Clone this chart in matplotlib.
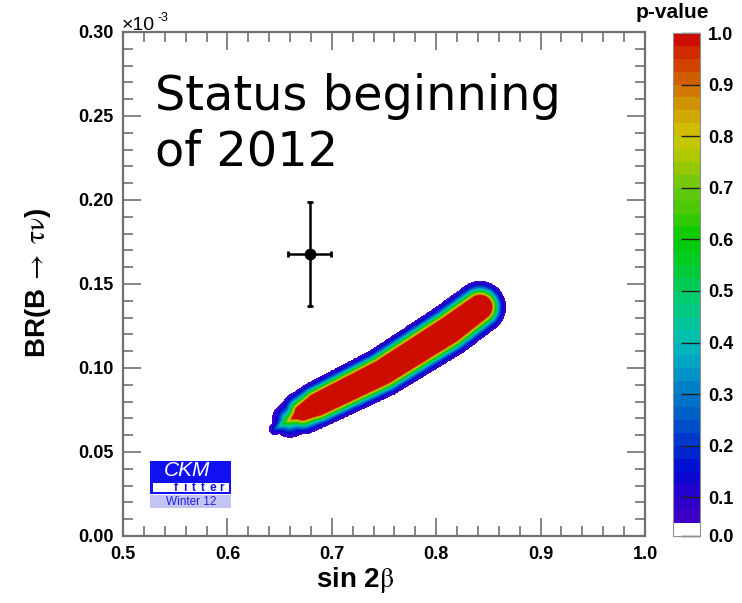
import math
import numpy as np
import matplotlib
matplotlib.use("Agg")
import matplotlib.pyplot as plt
from matplotlib.colors import LinearSegmentedColormap
from matplotlib.patches import Rectangle
from matplotlib.ticker import MultipleLocator, FormatStrFormatter

plt.rcParams['font.family'] = ['Liberation Sans', 'DejaVu Sans']
plt.rcParams['mathtext.fontset'] = 'stix'

# measurement: sin 2beta and BR(B -> tau nu) in units of 1e-3
meas_x, meas_xerr = 0.679, 0.0205
meas_y, meas_yerr = 0.168, 0.031

# ridge of the fit: centre line, half width of the p=1 plateau,
# and width of the fall-off down to p=0.05 (BR units, 1e-3)
ridge_x = [0.646, 0.660, 0.672, 0.686, 0.749, 0.813, 0.842]
ridge_y = [0.0638, 0.0692, 0.0735, 0.0782, 0.0976, 0.1228, 0.1362]
ridge_plateau = [-0.0060, -0.0012, 0.0040, 0.0060, 0.0068, 0.0073, 0.0066]
ridge_falloff = [0.0096, 0.0118, 0.0090, 0.0078, 0.0080, 0.0083, 0.0088]

# colour palette of the p-value scale
pal_vals = [0.05, 0.10, 0.15, 0.20, 0.25, 0.30, 0.35, 0.40, 0.45, 0.50,
            0.55, 0.60, 0.65, 0.70, 0.75, 0.80, 0.85, 0.90, 0.95, 1.00]
pal_cols = ['#4200c4', '#2a00cc', '#0008d2', '#0030cc', '#0058c8', '#0078c8',
            '#009cc8', '#00bcb8', '#00c890', '#00cc60', '#00cc30', '#00cc00',
            '#40c800', '#68c810', '#a0c800', '#d0c800', '#d0a000', '#d06c00',
            '#d03800', '#cc0000']
cb_ticks = [0.0, 0.1, 0.2, 0.3, 0.4, 0.5, 0.6, 0.7, 0.8, 0.9, 1.0]

# build the p-value map
xs = np.linspace(0.5, 1.0, 800)
ys = np.linspace(0.0, 0.30, 800)
X, Y = np.meshgrid(xs, ys)
ax_aspect = 522 / 504
PX = (X - 0.5) / 0.5 * ax_aspect
PY = Y / 0.30
rx = (np.array(ridge_x) - 0.5) / 0.5 * ax_aspect
ry = np.array(ridge_y) / 0.30
hp = np.array(ridge_plateau) / 0.30
bw = np.array(ridge_falloff) / 0.30

S = np.full(X.shape, np.inf)
for i in range(len(rx) - 1):
    x0, y0, x1, y1 = rx[i], ry[i], rx[i + 1], ry[i + 1]
    dx, dy = x1 - x0, y1 - y0
    t = ((PX - x0) * dx + (PY - y0) * dy) / (dx * dx + dy * dy)
    t = np.clip(t, 0, 1)
    d = np.hypot(PX - (x0 + t * dx), PY - (y0 + t * dy))
    h = hp[i] + t * (hp[i + 1] - hp[i])
    b = bw[i] + t * (bw[i + 1] - bw[i])
    S = np.minimum(S, (d - h) / b)

# S = 0 at the plateau edge, S = 1 where p reaches 0.05
erfc = np.vectorize(math.erfc)
P = np.ones_like(S)
band = S > 0
P[band] = erfc(1.96 * np.minimum(S[band], 3.0) / math.sqrt(2))
P[S > 1] = 0.0

cmap = LinearSegmentedColormap.from_list(
    'pv', list(zip([(v - 0.05) / 0.95 for v in pal_vals], pal_cols)))
levels = [0.0] + list(np.arange(0.05, 1.0001, 0.025))
colors = ['white'] + [cmap((0.5 * (levels[i] + levels[i + 1]) - 0.05) / 0.95)
                      for i in range(1, len(levels) - 1)]

fig = plt.figure(figsize=(7.42, 6.03), dpi=100)
ax = fig.add_axes([123 / 742, 1 - 536 / 603, 522 / 742, 504 / 603])
cf = ax.contourf(X, Y, P, levels=levels, colors=colors)

ax.errorbar(meas_x, meas_y, xerr=meas_xerr, yerr=meas_yerr, fmt='o',
            color='black', ms=7.5, elinewidth=1.8, capsize=2.5, capthick=2)

ax.set_xlim(0.5, 1.0)
ax.set_ylim(0.0, 0.30)
ax.xaxis.set_major_locator(MultipleLocator(0.1))
ax.xaxis.set_minor_locator(MultipleLocator(0.02))
ax.yaxis.set_major_locator(MultipleLocator(0.05))
ax.yaxis.set_minor_locator(MultipleLocator(0.01))
ax.xaxis.set_major_formatter(FormatStrFormatter('%.1f'))
ax.yaxis.set_major_formatter(FormatStrFormatter('%.2f'))
ax.tick_params(which='both', direction='in', top=True, right=True,
               color='#707070', width=1.2)
ax.tick_params(which='major', length=13, labelsize=13, pad=7)
ax.tick_params(which='minor', length=7)
for lab in ax.get_xticklabels() + ax.get_yticklabels():
    lab.set_fontweight('bold')
for sp in ax.spines.values():
    sp.set_color('#707070')
    sp.set_linewidth(1.6)

# exponent of the y axis
fig.text(122 / 742, 1 - 30 / 603, '\u00d710', fontsize=14,
         ha='left', va='baseline')
fig.text(157 / 742, 1 - 21 / 603, '-3', fontsize=9,
         ha='left', va='baseline')

fig.text(355 / 742, 1 - 580 / 603, 'sin 2' + r'$\mathrm{\beta}$', fontsize=20,
         fontweight='bold', ha='center', va='center')
fig.text(38 / 742, 1 - 283 / 603,
         'BR(B' + r'$\;\rightarrow\;\mathrm{\tau\nu}$' + ')',
         fontsize=20, fontweight='bold', rotation=90, ha='center', va='center')

fig.text(155 / 742, 1 - 110 / 603, 'Status beginning', family='DejaVu Sans',
         fontsize=34.5, ha='left', va='baseline')
fig.text(155 / 742, 1 - 165 / 603, 'of 2012', family='DejaVu Sans',
         fontsize=34.5, ha='left', va='baseline')

# CKMfitter logo
def afx(px):
    return (px - 123) / 522

def afy(py):
    return (536 - py) / 504

ax.add_patch(Rectangle((afx(150), afy(494)), afx(231) - afx(150),
                       afy(461) - afy(494), transform=ax.transAxes,
                       facecolor='#1010f0', edgecolor='none'))
ax.add_patch(Rectangle((afx(153), afy(491.5)), afx(229) - afx(153),
                       afy(482.5) - afy(491.5), transform=ax.transAxes,
                       facecolor='white', edgecolor='none'))
ax.add_patch(Rectangle((afx(150), afy(508)), afx(231) - afx(150),
                       afy(495) - afy(508), transform=ax.transAxes,
                       facecolor='#c4c4f4', edgecolor='none'))
ax.text(afx(187), afy(471), 'CKM', transform=ax.transAxes, color='white',
        fontsize=15, style='italic', ha='center', va='center')
for ch, px in zip('fitter', [176, 184.5, 193.5, 203, 213, 222]):
    ax.text(afx(px), afy(491), ch, transform=ax.transAxes,
            color='#1010f0', fontsize=8.5, fontweight='bold', ha='center',
            va='baseline')
ax.text(afx(191), afy(502), 'Winter 12', transform=ax.transAxes,
        color='#2020e0', fontsize=8.5, ha='center', va='center')

# colour scale
cax = fig.add_axes([673 / 742, 1 - 536 / 603, 27 / 742, 503 / 603])
cb = fig.colorbar(cf, cax=cax, ticks=cb_ticks)
cb.outline.set_edgecolor('#909090')
cb.outline.set_linewidth(0.8)
cax.yaxis.set_major_formatter(FormatStrFormatter('%.1f'))
cax.tick_params(direction='in', length=14, width=1, color='#202020',
                labelsize=13, pad=6)
cax.minorticks_off()
for lab in cax.get_yticklabels():
    lab.set_fontweight('bold')
fig.text(672 / 742, 1 - 13 / 603, 'p-value', fontsize=15,
         fontweight='bold', ha='center', va='center')

fig.savefig('out.png', dpi=100)
